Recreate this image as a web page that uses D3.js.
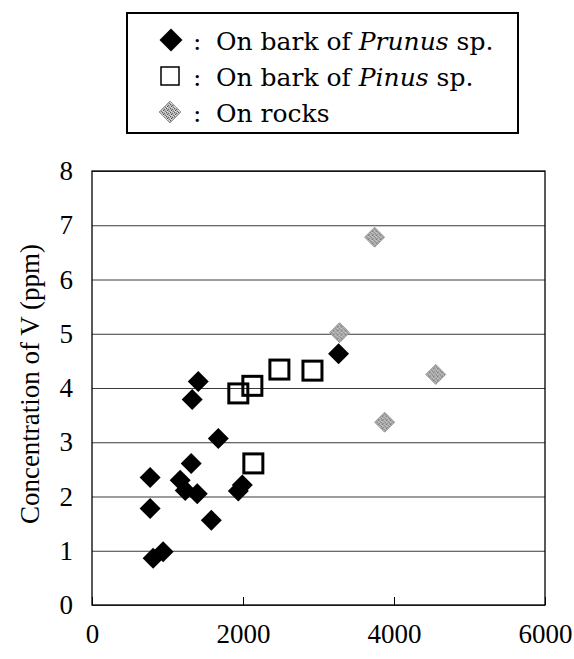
<!DOCTYPE html>
<html>
<head>
<meta charset="utf-8">
<script src="https://cdn.jsdelivr.net/npm/d3@7"></script>
<style>
  body { margin: 0; background: #fff; }
  svg text { font-family: "Liberation Serif", "Times New Roman", serif; fill: #000; }
</style>
</head>
<body>
<div id="chart"></div>
<script>
// V concentration in lichens by substrate
var prunusX = [1407, 1327, 1673, 1314, 770, 1168, 1235, 1394, 1938, 1991, 770, 1580, 810, 942, 3266];
var prunusY = [4.12, 3.79, 3.07, 2.61, 2.35, 2.30, 2.11, 2.05, 2.10, 2.21, 1.78, 1.56, 0.86, 0.98, 4.63];

var pinusX = [1938, 2124, 2482, 2920, 2137];
var pinusY = [3.90, 4.04, 4.34, 4.32, 2.61];

var rocksX = [3743, 3279, 4553, 3876];
var rocksY = [6.78, 5.02, 4.25, 3.37];

var xTicks = [0, 2000, 4000, 6000];
var yTicks = [0, 1, 2, 3, 4, 5, 6, 7, 8];

var width = 574, height = 659;
var padding = {left: 92, right: 29, top: 171, bottom: 54};
var plotW = width - padding.left - padding.right;
var plotH = height - padding.top - padding.bottom;

var svg = d3.select("#chart")
  .append("svg")
  .attr("width", width)
  .attr("height", height);

// grainy grey fill for the rock samples
var defs = svg.append("defs");
var pat = defs.append("pattern")
  .attr("id", "grain")
  .attr("width", 4)
  .attr("height", 4)
  .attr("patternUnits", "userSpaceOnUse");
pat.append("rect").attr("width", 4).attr("height", 4).attr("fill", "#b4b4b4");
[[0, 0, "#555"], [2, 1, "#6a6a6a"], [1, 2, "#4a4a4a"], [3, 3, "#777"], [3, 0, "#e0e0e0"], [1, 3, "#e6e6e6"], [0, 2, "#d8d8d8"]]
  .forEach(function(p) {
    pat.append("rect").attr("x", p[0]).attr("y", p[1]).attr("width", 1).attr("height", 1).attr("fill", p[2]);
  });

var xScale = d3.scaleLinear().domain([0, 6000]).range([0, plotW]);
var yScale = d3.scaleLinear().domain([0, 8]).range([plotH, 0]);

var g = svg.append("g")
  .attr("transform", "translate(" + padding.left + "," + padding.top + ")");

// horizontal grid
g.append("g")
  .attr("class", "grid")
  .call(d3.axisLeft(yScale).tickValues(yTicks).tickSize(-plotW).tickFormat(""))
  .call(function(s) {
    s.select(".domain").remove();
    s.selectAll("line").attr("stroke", "#3a3a3a").attr("stroke-width", 1);
  });

// frame
g.append("rect")
  .attr("width", plotW)
  .attr("height", plotH)
  .attr("fill", "none")
  .attr("stroke", "#000")
  .attr("stroke-width", 1.3);

// y axis labels
g.append("g")
  .call(d3.axisLeft(yScale).tickValues(yTicks).tickSize(0).tickPadding(19))
  .call(function(s) {
    s.select(".domain").remove();
    s.selectAll("text").attr("font-size", 27).style("font-family", "Liberation Serif");
  });

// x axis: short inward ticks and labels
g.append("g")
  .attr("transform", "translate(0," + plotH + ")")
  .call(d3.axisBottom(xScale).tickValues(xTicks).tickSize(-8).tickPadding(19).tickFormat(d3.format("d")))
  .call(function(s) {
    s.select(".domain").remove();
    s.selectAll("line").attr("stroke", "#000");
    s.selectAll("text").attr("font-size", 27).style("font-family", "Liberation Serif");
  });

svg.append("text")
  .attr("transform", "translate(39,384) rotate(-90)")
  .attr("text-anchor", "middle")
  .attr("font-size", 27)
  .text("Concentration of V (ppm)");

function diamond(r) {
  return "M0," + (-r) + "L" + r + ",0L0," + r + "L" + (-r) + ",0Z";
}

var prunus = prunusX.map(function(x, i) { return {x: x, y: prunusY[i]}; });
var pinus = pinusX.map(function(x, i) { return {x: x, y: pinusY[i]}; });
var rocks = rocksX.map(function(x, i) { return {x: x, y: rocksY[i]}; });

g.selectAll(".prunus")
  .data(prunus)
  .enter().append("path")
  .attr("class", "prunus")
  .attr("transform", function(d) { return "translate(" + xScale(d.x) + "," + yScale(d.y) + ")"; })
  .attr("d", diamond(10.5))
  .attr("fill", "#000");

g.selectAll(".pinus")
  .data(pinus)
  .enter().append("rect")
  .attr("class", "pinus")
  .attr("x", function(d) { return xScale(d.x) - 9.5; })
  .attr("y", function(d) { return yScale(d.y) - 9.5; })
  .attr("width", 19)
  .attr("height", 19)
  .attr("fill", "none")
  .attr("stroke", "#000")
  .attr("stroke-width", 3);

g.selectAll(".rocks")
  .data(rocks)
  .enter().append("path")
  .attr("class", "rocks")
  .attr("transform", function(d) { return "translate(" + xScale(d.x) + "," + yScale(d.y) + ")"; })
  .attr("d", diamond(10))
  .attr("fill", "url(#grain)")
  .attr("stroke", "#999")
  .attr("stroke-width", 1);

// legend
var legend = svg.append("g");
legend.append("rect")
  .attr("x", 127)
  .attr("y", 13)
  .attr("width", 391)
  .attr("height", 120)
  .attr("fill", "#fff")
  .attr("stroke", "#000")
  .attr("stroke-width", 2);

legend.append("path")
  .attr("transform", "translate(171,40)")
  .attr("d", diamond(11.5))
  .attr("fill", "#000");
legend.append("rect")
  .attr("x", 161).attr("y", 67)
  .attr("width", 18).attr("height", 18)
  .attr("fill", "none").attr("stroke", "#000").attr("stroke-width", 1.5);
legend.append("path")
  .attr("transform", "translate(170,112)")
  .attr("d", diamond(11))
  .attr("fill", "url(#grain)")
  .attr("stroke", "#999");

var legendRows = [
  {y: 50, pre: "On bark of ", it: "Prunus", post: " sp."},
  {y: 86, pre: "On bark of ", it: "Pinus", post: " sp."},
  {y: 122, pre: "On rocks", it: "", post: ""}
];

legendRows.forEach(function(r) {
  legend.append("text")
    .attr("x", 193)
    .attr("y", r.y)
    .attr("font-size", 25)
    .style("font-family", "DejaVu Serif")
    .text(":");
  var t = legend.append("text")
    .attr("x", 216)
    .attr("y", r.y)
    .attr("font-size", 25)
    .style("font-family", "DejaVu Serif");
  t.append("tspan").text(r.pre);
  if (r.it) t.append("tspan").attr("font-style", "italic").text(r.it);
  if (r.post) t.append("tspan").text(r.post);
});
</script>
</body>
</html>
